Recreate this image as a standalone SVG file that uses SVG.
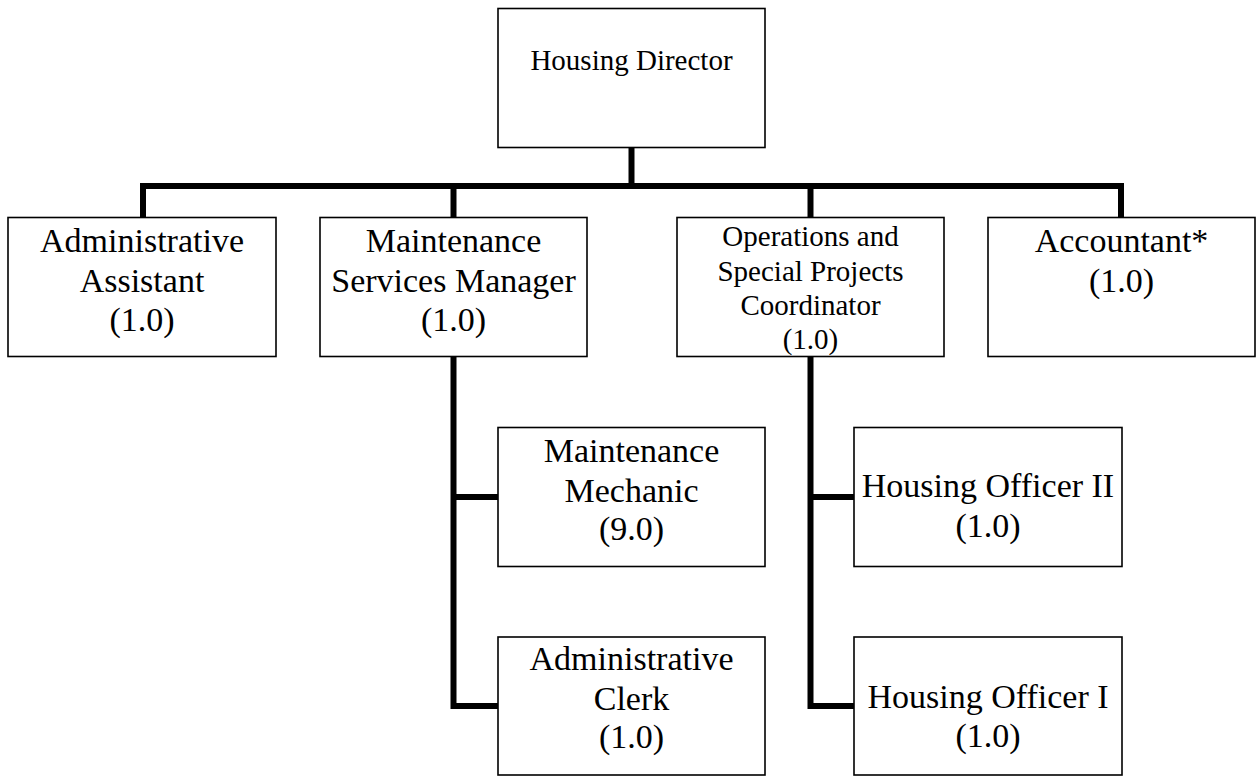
<svg xmlns="http://www.w3.org/2000/svg" width="1257" height="776" viewBox="0 0 1257 776">
<style>
.box{fill:#fff;stroke:#000;stroke-width:1.6}
.t{font-family:"Liberation Serif","Times New Roman",serif;font-size:34px;fill:#000;text-anchor:middle}
.ts{font-size:29px}
.conn{fill:none;stroke:#000;stroke-width:6;stroke-linejoin:miter;stroke-linecap:butt}
</style>
<rect width="1257" height="776" fill="#fff"/>
<g id="connectors">
<path class="conn" d="M631.5,148 V186"/>
<path class="conn" d="M143,217.5 V186 H1121 V217.5"/>
<path class="conn" d="M453.5,186 V217.5"/>
<path class="conn" d="M810.5,186 V217.5"/>
<path class="conn" d="M453.5,357 V706 H498"/>
<path class="conn" d="M453.5,497 H498"/>
<path class="conn" d="M810.5,357 V706 H854"/>
<path class="conn" d="M810.5,497 H854"/>
</g>
<g id="housing-director">
<rect class="box" x="498" y="8.5" width="267" height="139"/>
<text class="t ts" x="631.5" y="70">Housing Director</text>
</g>
<g id="administrative-assistant">
<rect class="box" x="8" y="217.5" width="268" height="139"/>
<text class="t" x="142" y="252">Administrative</text>
<text class="t" x="142" y="292">Assistant</text>
<text class="t" x="142" y="331">(1.0)</text>
</g>
<g id="maintenance-services-manager">
<rect class="box" x="320" y="217.5" width="267" height="139"/>
<text class="t" x="453.5" y="252">Maintenance</text>
<text class="t" x="453.5" y="292">Services Manager</text>
<text class="t" x="453.5" y="331">(1.0)</text>
</g>
<g id="operations-coordinator">
<rect class="box" x="677" y="217.5" width="267" height="139"/>
<text class="t ts" x="810.5" y="246">Operations and</text>
<text class="t ts" x="810.5" y="281">Special Projects</text>
<text class="t ts" x="810.5" y="315">Coordinator</text>
<text class="t ts" x="810.5" y="349">(1.0)</text>
</g>
<g id="accountant">
<rect class="box" x="988" y="217.5" width="267" height="139"/>
<text class="t" x="1121.5" y="252">Accountant*</text>
<text class="t" x="1121.5" y="292">(1.0)</text>
</g>
<g id="maintenance-mechanic">
<rect class="box" x="498" y="427.5" width="267" height="139"/>
<text class="t" x="631.5" y="462">Maintenance</text>
<text class="t" x="631.5" y="502">Mechanic</text>
<text class="t" x="631.5" y="540">(9.0)</text>
</g>
<g id="administrative-clerk">
<rect class="box" x="498" y="637" width="267" height="138"/>
<text class="t" x="631.5" y="670">Administrative</text>
<text class="t" x="631.5" y="710">Clerk</text>
<text class="t" x="631.5" y="748">(1.0)</text>
</g>
<g id="housing-officer-ii">
<rect class="box" x="854" y="427.5" width="268" height="139"/>
<text class="t" x="988" y="497">Housing Officer II</text>
<text class="t" x="988" y="537">(1.0)</text>
</g>
<g id="housing-officer-i">
<rect class="box" x="854" y="637" width="268" height="138"/>
<text class="t" x="988" y="708">Housing Officer I</text>
<text class="t" x="988" y="747">(1.0)</text>
</g>
</svg>
